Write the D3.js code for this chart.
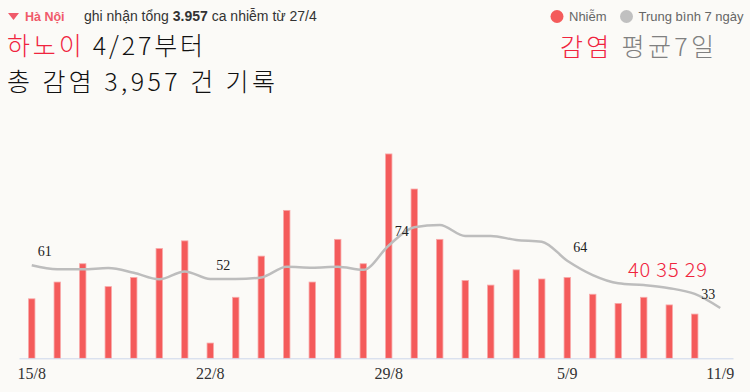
<!DOCTYPE html>
<html>
<head>
<meta charset="utf-8">
<script src="https://cdn.jsdelivr.net/npm/d3@7"></script>
<style>
  body { margin: 0; background: #fbfaf7; }
  svg { display: block; }
</style>
</head>
<body>
<div id="chart"></div>
<script>
// days (15/8 -> 11/9), 11/9 has only the average
var dates = ["15/8","16/8","17/8","18/8","19/8","20/8","21/8","22/8","23/8","24/8","25/8","26/8","27/8","28/8",
             "29/8","30/8","31/8","1/9","2/9","3/9","4/9","5/9","6/9","7/9","8/9","9/9","10/9","11/9"]
var cases = [39,50,62,47,53,72,77,10,40,67,97,50,78,62,
             134,111,78,51,48,58,52,53,42,36,40,35,29]
var avg7 = [61,58.4,58.4,59.2,56.1,51.8,57,52,52,53,60,59.4,60,58,
            74,86,87.4,80.2,80.2,77.6,76.5,64,54.6,49.2,48,46,42.2,33]
var tick_dates = ["15/8","22/8","29/8","5/9","11/9"]
var avg_labels = [61,52,74,64,33]
var last3 = [40,35,29]

var width = 750, height = 392
var bar_color = "#f45b5b"
var line_color = "#bdbdbd"

var svg = d3.select("#chart").append("svg")
    .attr("width", width)
    .attr("height", height)

svg.append("rect").attr("width", width).attr("height", height).attr("fill", "#fbfaf7")

var x = d3.scaleBand().domain(dates).range([19, 733]).padding(0)
var y = d3.scaleLinear().domain([0, 140]).range([358.3, 144.8])
var cx = function(d) { return x(d) + x.bandwidth() / 2 }

// bars
svg.append("g").selectAll("rect")
  .data(cases)
  .enter().append("rect")
    .attr("x", function(d, i) { return cx(dates[i]) - 3.2 })
    .attr("y", function(d) { return y(d) })
    .attr("width", 6.4)
    .attr("height", function(d) { return y(0) - y(d) })
    .attr("fill", bar_color)
    .attr("stroke", "#f8a9a9")
    .attr("stroke-width", 0.8)

// axis
var xAxis = svg.append("g")
    .attr("transform", "translate(0," + y(0) + ")")
    .call(d3.axisBottom(x).tickValues(tick_dates).tickSize(0).tickPadding(9))
xAxis.select(".domain").attr("stroke", "#ccd6eb")
xAxis.selectAll("text")
    .attr("font-family", "Liberation Serif, serif")
    .attr("font-size", 16)
    .attr("fill", "#333")

// 7 day average
var line = d3.line()
    .x(function(d, i) { return cx(dates[i]) })
    .y(function(d) { return y(d) })
    .curve(d3.curveMonotoneX)

svg.append("path")
    .datum(avg7)
    .attr("d", line)
    .attr("fill", "none")
    .attr("stroke", line_color)
    .attr("stroke-width", 2.5)

svg.append("g").selectAll("text")
  .data(avg_labels)
  .enter().append("text")
    .attr("x", function(d, i) { return cx(tick_dates[i]) + (i == avg_labels.length - 1 ? -12 : 13) })
    .attr("y", function(d, i) { return y(avg7[dates.indexOf(tick_dates[i])]) - 9 })
    .attr("text-anchor", "middle")
    .attr("font-family", "Liberation Serif, serif")
    .attr("font-size", 14)
    .attr("fill", "#222")
    .text(function(d) { return d })

svg.append("text")
    .attr("x", 628).attr("y", 277)
    .attr("font-family", "Noto Sans CJK KR, sans-serif")
    .attr("font-weight", 300)
    .attr("font-size", 20)
    .attr("textLength", 79)
    .attr("fill", "#f0243e")
    .text(last3.join(" "))

// header
svg.append("path")
    .attr("d", "M8,13 L19,13 L13.5,20 Z")
    .attr("fill", "#f05a6a")
svg.append("text")
    .attr("x", 25).attr("y", 21)
    .attr("font-family", "Liberation Sans, Arial, sans-serif")
    .attr("font-size", 12.5).attr("font-weight", "bold")
    .attr("fill", "#f05a6a")
    .text("Hà Nội")
var sub = svg.append("text")
    .attr("x", 84).attr("y", 21)
    .attr("font-family", "Liberation Sans, Arial, sans-serif")
    .attr("font-size", 14)
    .attr("fill", "#333")
sub.append("tspan").text("ghi nhận tổng ")
sub.append("tspan").attr("font-weight", "bold").text("3.957")
sub.append("tspan").text(" ca nhiễm từ 27/4")

// legend
var legend = [{name: "Nhiễm", color: bar_color, x: 557}, {name: "Trung bình 7 ngày", color: "#c0c0c0", x: 626.5}]
var lg = svg.append("g").selectAll("g").data(legend).enter().append("g")
lg.append("circle").attr("cx", function(d) { return d.x }).attr("cy", 16.5).attr("r", 6.5)
    .attr("fill", function(d) { return d.color })
lg.append("text")
    .attr("x", function(d) { return d.x + 12 }).attr("y", 21)
    .attr("font-family", "Liberation Sans, Arial, sans-serif")
    .attr("font-size", 13)
    .attr("fill", "#666")
    .text(function(d) { return d.name })

// korean titles
var kfont = "Noto Sans CJK KR, sans-serif"
var t1 = svg.append("text").attr("x", 7).attr("y", 55)
    .attr("font-family", kfont).attr("font-weight", 300).attr("font-size", 25)
    .attr("textLength", 196)
t1.append("tspan").attr("fill", "#f0243e").text("하노이")
t1.append("tspan").attr("fill", "#111").text(" 4/27부터")

svg.append("text").attr("x", 7).attr("y", 91)
    .attr("font-family", kfont).attr("font-weight", 300).attr("font-size", 25)
    .attr("textLength", 268)
    .attr("fill", "#111")
    .text("총 감염 3,957 건 기록")

var t2 = svg.append("text").attr("x", 560).attr("y", 56)
    .attr("font-family", kfont).attr("font-weight", 300).attr("font-size", 25)
    .attr("textLength", 154)
t2.append("tspan").attr("fill", "#f0243e").text("감염")
t2.append("tspan").attr("fill", "#808080").text(" 평균7일")
</script>
</body>
</html>
